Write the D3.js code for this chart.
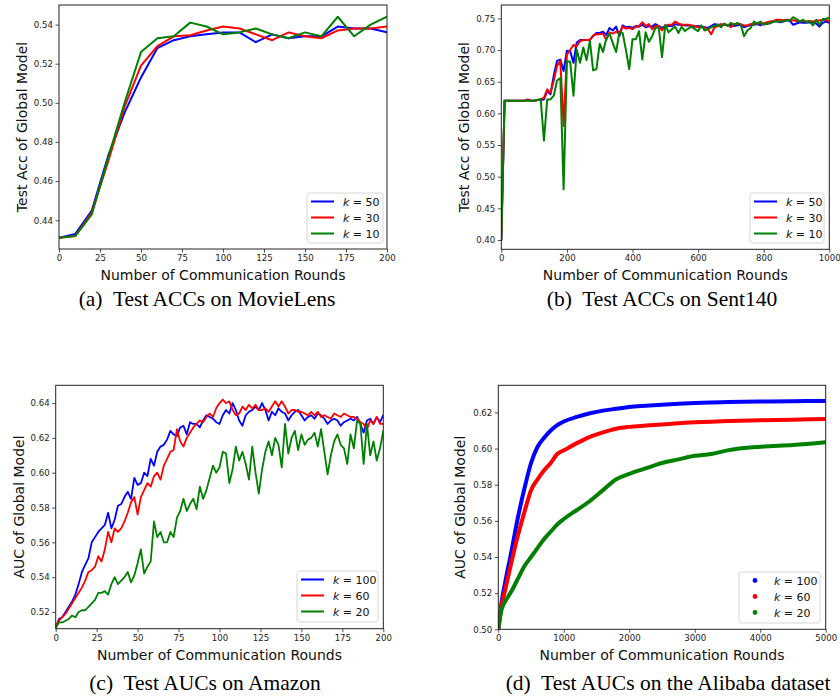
<!DOCTYPE html>
<html><head><meta charset="utf-8">
<script src="https://cdn.jsdelivr.net/npm/d3@7"></script>
<style>body{margin:0;background:#fff}svg{display:block}</style>
</head><body><svg id="c" width="840" height="700"></svg>
<script>
// ---------- (a) MovieLens ----------
const aRounds = d3.range(0, 201, 10);
const aK50 = [0.431,0.433,0.445,0.473,0.495,0.513,0.528,0.532,0.534,0.535,0.536,0.536,0.531,0.535,0.533,0.534,0.534,0.539,0.538,0.538,0.536];
const aK30 = [0.431,0.432,0.444,0.470,0.498,0.519,0.529,0.534,0.5345,0.537,0.539,0.538,0.535,0.532,0.536,0.534,0.533,0.537,0.538,0.538,0.539];
const aK10 = [0.431,0.432,0.443,0.472,0.500,0.526,0.533,0.534,0.541,0.539,0.535,0.536,0.538,0.535,0.533,0.536,0.534,0.544,0.534,0.540,0.544];
const aXTicks = [0,25,50,75,100,125,150,175,200];
const aYTicks = [0.44,0.46,0.48,0.50,0.52,0.54];
const aLegend = ["50","30","10"];

// ---------- (b) Sent140 ----------
const bRounds = d3.range(0, 1001, 10);
const bK50 = [0.40,
 0.62,0.62,0.62,0.62,0.62,0.62,0.62,0.621,0.62,0.62,0.621,0.621,
 0.622,0.635,0.630,0.660,0.683,0.685,0.667,0.699,0.698,0.680,
 0.712,0.716,0.716,0.716,0.716,0.722,0.727,0.727,0.729,0.724,
 0.735,0.731,0.737,0.722,0.739,0.736,0.737,0.735,0.738,0.737,
 0.740,0.736,0.738,0.737,0.741,0.738,0.735,0.738,0.738,0.738,
 0.741,0.740,0.740,0.739,0.739,0.738,0.737,0.738,0.737,0.736,
 0.735,0.738,0.741,0.740,0.740,0.740,0.739,0.740,0.738,0.739,
 0.740,0.736,0.738,0.740,0.740,0.741,0.739,0.742,0.741,0.744,
 0.745,0.746,0.744,0.745,0.747,0.746,0.740,0.742,0.744,0.743,
 0.743,0.744,0.743,0.742,0.737,0.743,0.745,0.743];
const bK30 = [0.40,
 0.62,0.62,0.62,0.62,0.62,0.62,0.62,0.622,0.62,0.62,0.621,0.622,
 0.625,0.638,0.632,0.652,0.675,0.683,0.580,0.693,0.700,0.708,
 0.706,0.714,0.716,0.716,0.716,0.723,0.725,0.725,0.726,0.716,
 0.728,0.726,0.729,0.727,0.737,0.734,0.735,0.733,0.737,0.738,
 0.744,0.738,0.741,0.733,0.738,0.738,0.731,0.738,0.740,0.740,
 0.745,0.742,0.740,0.740,0.740,0.739,0.738,0.736,0.737,0.735,
 0.733,0.725,0.736,0.738,0.741,0.740,0.740,0.736,0.741,0.741,
 0.741,0.739,0.739,0.741,0.741,0.743,0.742,0.742,0.744,0.745,
 0.746,0.748,0.748,0.747,0.748,0.747,0.747,0.746,0.746,0.746,
 0.745,0.746,0.745,0.746,0.747,0.747,0.748,0.745];
const bK10 = [0.40,
 0.62,0.62,0.62,0.62,0.62,0.62,0.62,0.62,0.62,0.62,0.621,0.623,
 0.557,0.622,0.622,0.628,0.652,0.656,0.480,0.682,0.682,0.628,
 0.701,0.680,0.704,0.684,0.715,0.668,0.670,0.710,0.697,0.718,
 0.726,0.711,0.697,0.728,0.727,0.700,0.670,0.717,0.717,0.730,
 0.685,0.728,0.713,0.722,0.735,0.736,0.689,0.740,0.728,0.733,
 0.737,0.727,0.737,0.730,0.734,0.737,0.733,0.730,0.739,0.731,
 0.733,0.736,0.738,0.740,0.736,0.742,0.738,0.743,0.740,0.743,
 0.740,0.722,0.731,0.735,0.745,0.741,0.745,0.740,0.742,0.742,
 0.745,0.745,0.745,0.746,0.747,0.747,0.752,0.749,0.745,0.748,
 0.744,0.746,0.739,0.748,0.740,0.749,0.749,0.751];
const bXTicks = [0,200,400,600,800,1000];
const bYTicks = [0.40,0.45,0.50,0.55,0.60,0.65,0.70,0.75];
const bLegend = ["50","30","10"];

// ---------- (c) Amazon ----------
const cRounds = d3.range(0, 201, 2);
const cK100 = [0.511,0.516,0.517,0.520,0.523,0.526,0.530,0.536,0.543,0.547,
 0.551,0.560,0.563,0.566,0.568,0.570,0.577,0.568,0.573,0.581,
 0.582,0.586,0.589,0.585,0.597,0.593,0.594,0.600,0.598,0.608,
 0.604,0.612,0.615,0.616,0.619,0.624,0.622,0.621,0.626,0.627,
 0.622,0.629,0.628,0.628,0.626,0.630,0.633,0.632,0.631,0.629,
 0.628,0.633,0.636,0.634,0.640,0.636,0.630,0.627,0.633,0.635,
 0.636,0.638,0.636,0.640,0.636,0.630,0.635,0.633,0.637,0.635,
 0.634,0.630,0.633,0.635,0.636,0.633,0.630,0.632,0.633,0.631,
 0.634,0.633,0.631,0.628,0.630,0.631,0.630,0.627,0.629,0.630,
 0.631,0.630,0.632,0.628,0.623,0.630,0.631,0.628,0.632,0.629,0.633];
const cK60 = [0.512,0.515,0.517,0.519,0.522,0.525,0.528,0.531,0.534,0.538,
 0.543,0.544,0.546,0.552,0.549,0.556,0.566,0.560,0.568,0.566,
 0.568,0.572,0.577,0.583,0.586,0.576,0.586,0.590,0.594,0.592,
 0.598,0.600,0.596,0.604,0.608,0.612,0.613,0.625,0.618,0.615,
 0.620,0.623,0.626,0.628,0.630,0.629,0.632,0.634,0.632,0.637,
 0.640,0.642,0.640,0.641,0.636,0.633,0.634,0.638,0.636,0.639,
 0.637,0.639,0.636,0.636,0.637,0.635,0.638,0.641,0.638,0.641,
 0.638,0.634,0.636,0.636,0.635,0.635,0.634,0.633,0.635,0.633,
 0.635,0.632,0.633,0.632,0.631,0.634,0.633,0.632,0.634,0.633,
 0.632,0.632,0.631,0.629,0.628,0.625,0.630,0.628,0.632,0.628,0.628];
const cK20 = [0.511,0.514,0.514,0.515,0.516,0.518,0.517,0.520,0.521,0.521,
 0.523,0.525,0.527,0.531,0.531,0.532,0.530,0.536,0.540,0.536,
 0.538,0.540,0.543,0.537,0.541,0.548,0.556,0.542,0.546,0.549,
 0.572,0.563,0.566,0.560,0.560,0.566,0.563,0.574,0.578,0.585,
 0.578,0.582,0.585,0.579,0.592,0.585,0.590,0.597,0.604,0.600,
 0.603,0.612,0.611,0.594,0.602,0.615,0.607,0.612,0.605,0.596,
 0.615,0.600,0.588,0.602,0.612,0.618,0.610,0.620,0.616,0.603,
 0.628,0.611,0.620,0.624,0.613,0.622,0.616,0.619,0.620,0.623,
 0.615,0.625,0.612,0.599,0.610,0.618,0.622,0.616,0.614,0.605,
 0.622,0.614,0.630,0.628,0.605,0.628,0.610,0.618,0.607,0.614,0.624];
const cXTicks = [0,25,50,75,100,125,150,175,200];
const cYTicks = [0.52,0.54,0.56,0.58,0.60,0.62,0.64];
const cLegend = ["100","60","20"];

// ---------- (d) Alibaba ----------
const dRounds = [0,50,100,200,300,400,500,600,700,800,900,1000,1200,1400,1600,1800,2000,2250,2500,2750,3000,3250,3500,4000,4500,5000];
const dK100 = [0.500,0.515,0.525,0.543,0.562,0.578,0.592,0.601,0.606,0.610,0.613,0.615,0.6175,0.6195,0.621,0.622,0.623,0.6237,0.6243,0.6248,0.6252,0.6255,0.6257,0.626,0.6262,0.6263];
const dK60 = [0.500,0.513,0.521,0.537,0.552,0.565,0.577,0.583,0.588,0.592,0.597,0.599,0.603,0.6065,0.609,0.611,0.612,0.6127,0.6133,0.614,0.6145,0.6149,0.6152,0.6157,0.616,0.6163];
const dK20 = [0.500,0.511,0.515,0.521,0.528,0.535,0.540,0.545,0.550,0.554,0.558,0.561,0.566,0.571,0.577,0.583,0.586,0.589,0.592,0.594,0.596,0.597,0.599,0.601,0.602,0.6035];
const dXTicks = [0,1000,2000,3000,4000,5000];
const dYTicks = [0.50,0.52,0.54,0.56,0.58,0.60,0.62];
const dLegend = ["100","60","20"];

const colors = ["#0000ff","#ff0000","#008000"];
const xLabel = "Number of Communication Rounds";

const svg = d3.select("#c");
const TICKFONT = "DejaVu Sans, sans-serif";

function panel(p) {
  const x = d3.scaleLinear().domain(p.xDomain).range([p.x0, p.x1]);
  const y = d3.scaleLinear().domain(p.yDomain).range([p.y1, p.y0]);
  const g = svg.append("g");
  const cid = "clip-" + p.id;
  svg.append("defs").append("clipPath").attr("id", cid)
    .append("rect").attr("x", p.x0).attr("y", p.y0).attr("width", p.x1 - p.x0).attr("height", p.y1 - p.y0);

  const sg = g.append("g").attr("clip-path", `url(#${cid})`);
  p.series.forEach((vals, i) => {
    const line = d3.line().x((d, j) => x(p.rounds[j])).y(d => y(d));
    if (p.smooth) line.curve(d3.curveMonotoneX);
    sg.append("path").datum(vals).attr("d", line)
      .attr("fill", "none").attr("stroke", colors[i])
      .attr("stroke-width", p.lw).attr("stroke-linejoin", "round").attr("stroke-linecap", "round");
  });

  const xa = g.append("g").attr("transform", `translate(0,${p.y1})`)
    .call(d3.axisBottom(x).tickValues(p.xTicks).tickSize(3.5).tickPadding(2.5).tickFormat(d3.format("d")));
  const ya = g.append("g").attr("transform", `translate(${p.x0},0)`)
    .call(d3.axisLeft(y).tickValues(p.yTicks).tickSize(3.5).tickPadding(2.5).tickFormat(d3.format(".2f")));
  [xa, ya].forEach(a => {
    a.select(".domain").remove();
    a.selectAll(".tick line").attr("stroke", "#222").attr("stroke-width", 0.8);
    a.selectAll(".tick text").attr("font-family", TICKFONT).attr("font-size", 8.6).attr("fill", "#222");
  });

  g.append("rect").attr("x", p.x0).attr("y", p.y0).attr("width", p.x1 - p.x0).attr("height", p.y1 - p.y0)
    .attr("fill", "none").attr("stroke", "#222").attr("stroke-width", 1);

  g.append("text").attr("x", (p.x0 + p.x1) / 2).attr("y", p.y1 + 31)
    .attr("text-anchor", "middle").attr("font-family", TICKFONT).attr("font-size", 14).attr("fill", "#111")
    .text(xLabel);
  g.append("text").attr("transform", `translate(${p.ylx},${(p.y0 + p.y1) / 2}) rotate(-90)`)
    .attr("text-anchor", "middle").attr("dominant-baseline", "central")
    .attr("font-family", TICKFONT).attr("font-size", 14).attr("fill", "#111")
    .text(p.yLabel);

  const L = p.legend;
  const lg = g.append("g");
  lg.append("rect").attr("x", L.x).attr("y", L.y).attr("width", L.w).attr("height", L.h)
    .attr("rx", 2.5).attr("fill", "#fff").attr("fill-opacity", 0.85).attr("stroke", "#ccc").attr("stroke-width", 0.8);
  p.legendLabels.forEach((lab, i) => {
    const cy = L.y + 8.5 + i * 16;
    if (p.dots) {
      lg.append("circle").attr("cx", L.x + 16).attr("cy", cy).attr("r", 2.4).attr("fill", colors[i]);
    } else {
      lg.append("line").attr("x1", L.x + 4).attr("x2", L.x + 27).attr("y1", cy).attr("y2", cy)
        .attr("stroke", colors[i]).attr("stroke-width", 2);
    }
    const t = lg.append("text").attr("x", L.x + L.tx).attr("y", cy).attr("dominant-baseline", "central")
      .attr("font-family", TICKFONT).attr("font-size", 11).attr("fill", "#111");
    t.append("tspan").attr("font-style", "italic").text("k");
    t.append("tspan").text(" = " + lab);
  });

  svg.append("text").attr("x", p.cap.x).attr("y", p.cap.y).attr("text-anchor", "middle")
    .attr("font-family", "Liberation Serif, Times New Roman, serif").attr("font-size", 21.5).attr("fill", "#000")
    .text(p.cap.text);
}

panel({id:"a", rounds:aRounds, series:[aK50,aK30,aK10], xDomain:[0,200], yDomain:[0.4253,0.5500],
  x0:59, x1:387, y0:5, y1:249, xTicks:aXTicks, yTicks:aYTicks, lw:2,
  yLabel:"Test Acc of Global Model", ylx:21.5, legendLabels:aLegend,
  legend:{x:307, y:193, w:76, h:50, tx:36},
  cap:{x:207, y:306, text:"(a)\u00A0 Test ACCs on MovieLens"}});

panel({id:"b", rounds:bRounds, series:[bK50,bK30,bK10], xDomain:[0,1000], yDomain:[0.3853,0.7712],
  x0:501.3, x1:829.3, y0:5, y1:249.3, xTicks:bXTicks, yTicks:bYTicks, lw:2,
  yLabel:"Test Acc of Global Model", ylx:463.5, legendLabels:bLegend,
  legend:{x:750, y:193, w:74, h:50, tx:36},
  cap:{x:662, y:306, text:"(b)\u00A0 Test ACCs on Sent140"}});

panel({id:"c", rounds:cRounds, series:[cK100,cK60,cK20], xDomain:[0,200], yDomain:[0.5104,0.6502],
  x0:55.7, x1:383.3, y0:385.3, y1:628.7, xTicks:cXTicks, yTicks:cYTicks, lw:1.8,
  yLabel:"AUC of Global Model", ylx:18.5, legendLabels:cLegend,
  legend:{x:297, y:571, w:81, h:51, tx:36},
  cap:{x:205, y:690, text:"(c)\u00A0 Test AUCs on Amazon"}});

panel({id:"d", rounds:dRounds, series:[dK100,dK60,dK20], xDomain:[0,5000], yDomain:[0.50,0.635],
  x0:498.3, x1:825.7, y0:385.3, y1:629.3, xTicks:dXTicks, yTicks:dYTicks, lw:4, smooth:true, dots:true,
  yLabel:"AUC of Global Model", ylx:460, legendLabels:dLegend,
  legend:{x:739, y:572, w:81, h:51, tx:35},
  cap:{x:668, y:690, text:"(d)\u00A0 Test AUCs on the Alibaba dataset"}});
</script></body></html>
